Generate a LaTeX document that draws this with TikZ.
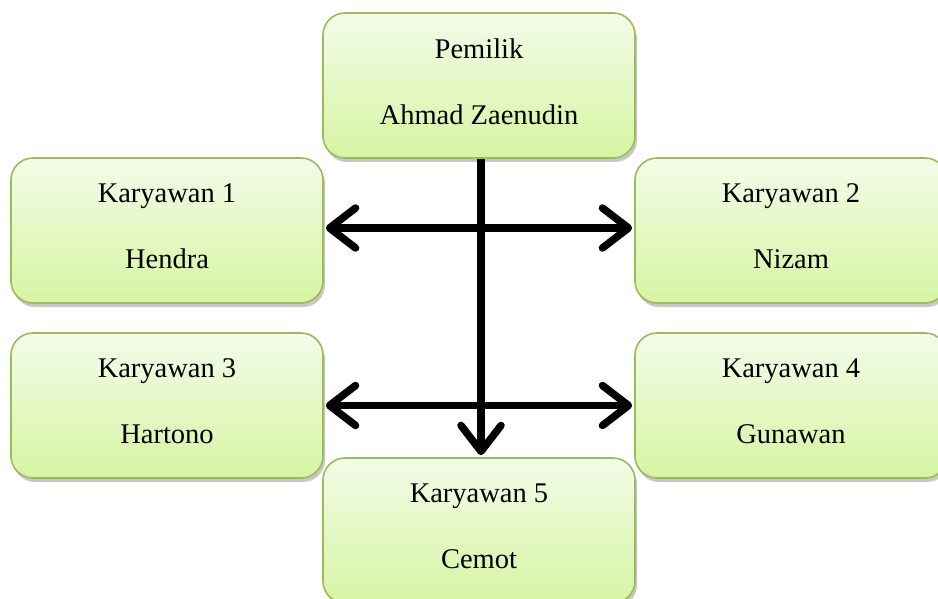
\documentclass[tikz,border=0pt]{standalone}
\usepackage{fontspec}
\setmainfont{Liberation Serif}
\usetikzlibrary{arrows.meta,shadows}
\definecolor{boxtop}{RGB}{243,251,232}
\definecolor{boxbot}{RGB}{214,245,162}
\definecolor{boxline}{RGB}{155,187,89}
\tikzset{
  orgbox/.style={draw=boxline, line width=1.6pt, rounded corners=22pt,
    top color=boxtop, bottom color=boxbot, minimum width=312pt, minimum height=145pt,
    align=center, inner sep=0pt,
    font=\fontsize{28.5}{66}\selectfont,
    execute at end node={\rule[-8pt]{0pt}{8pt}},
    drop shadow={shadow xshift=2pt, shadow yshift=-4pt, opacity=0.22, fill=black}},
  link/.style={line width=7.5pt},
  barb/.tip={Straight Barb[length=26pt, width=40pt, round]}
}
\begin{document}
\begin{tikzpicture}[x=1pt,y=-1pt]
\useasboundingbox (0,0) rectangle (938,599);
\node[orgbox] (p) at (479,85.5) {Pemilik\\Ahmad Zaenudin};
\node[orgbox] (k1) at (167,230.5) {Karyawan 1\\Hendra};
\node[orgbox] (k2) at (791,230.5) {Karyawan 2\\Nizam};
\node[orgbox] (k3) at (167,405.5) {Karyawan 3\\Hartono};
\node[orgbox] (k4) at (791,405.5) {Karyawan 4\\Gunawan};
\node[orgbox] (k5) at (479,530.5) {Karyawan 5\\Cemot};
\draw[link, barb-barb, shorten <=2pt, shorten >=2pt] ([yshift=2.5pt]k1.east) -- ([yshift=2.5pt]k2.west);
\draw[link, barb-barb, shorten <=2pt, shorten >=2pt] (k3.east) -- (k4.west);
\draw[link, -barb, shorten >=2pt] ([xshift=2pt]p.south) -- ([xshift=2pt]k5.north);
\end{tikzpicture}
\end{document}
